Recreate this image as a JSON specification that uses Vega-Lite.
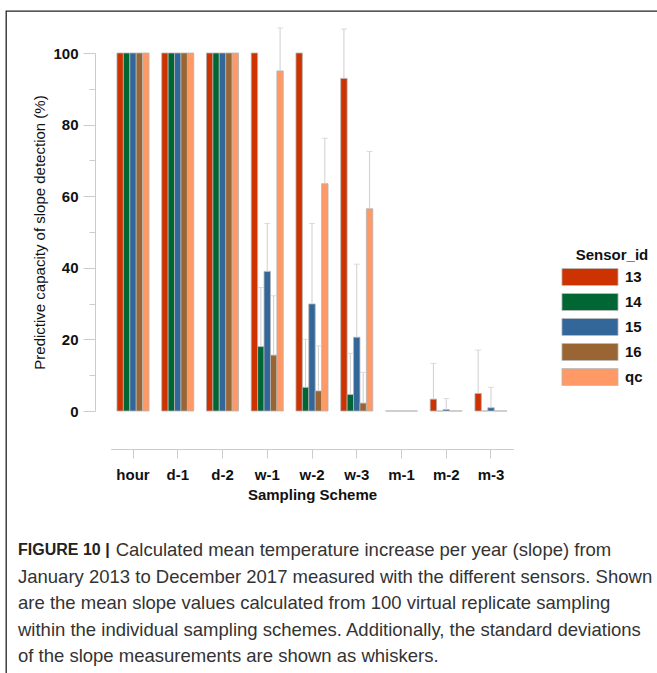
{
  "$schema": "https://vega.github.io/schema/vega-lite/v6.json",
  "width": 660,
  "height": 672,
  "padding": {"left": 6, "top": 11, "right": 0, "bottom": 0},
  "autosize": {"type": "pad"},
  "background": "white",
  "config": {
    "font": "Liberation Sans",
    "view": {"stroke": "#222222", "strokeWidth": 1.3}
  },
  "title": {
    "text": "FIGURE 10 |",
    "subtitle": [
      "\u200b\u00a0\u00a0\u00a0\u00a0\u00a0\u00a0\u00a0\u00a0\u00a0\u00a0\u00a0\u00a0\u00a0\u00a0\u00a0\u00a0\u00a0\u00a0\u00a0Calculated mean temperature increase per year (slope) from",
      "January 2013 to December 2017 measured with the different sensors. Shown",
      "are the mean slope values calculated from 100 virtual replicate sampling",
      "within the individual sampling schemes. Additionally, the standard deviations",
      "of the slope measurements are shown as whiskers."
    ],
    "orient": "bottom",
    "anchor": "start",
    "frame": "group",
    "offset": -141,
    "dx": 12,
    "font": "Liberation Sans",
    "fontSize": 16,
    "fontWeight": "bold",
    "color": "#222222",
    "subtitleFont": "Liberation Sans",
    "subtitleFontSize": 18.5,
    "subtitleFontWeight": "normal",
    "subtitleColor": "#333333",
    "subtitleLineHeight": 26.5,
    "subtitlePadding": -17
  },
  "data": {
    "values": [
      {"scheme": "hour", "sensor": "13", "value": 100, "upper": 100},
      {"scheme": "hour", "sensor": "14", "value": 100, "upper": 100},
      {"scheme": "hour", "sensor": "15", "value": 100, "upper": 100},
      {"scheme": "hour", "sensor": "16", "value": 100, "upper": 100},
      {"scheme": "hour", "sensor": "qc", "value": 100, "upper": 100},
      {"scheme": "d-1", "sensor": "13", "value": 100, "upper": 100},
      {"scheme": "d-1", "sensor": "14", "value": 100, "upper": 100},
      {"scheme": "d-1", "sensor": "15", "value": 100, "upper": 100},
      {"scheme": "d-1", "sensor": "16", "value": 100, "upper": 100},
      {"scheme": "d-1", "sensor": "qc", "value": 100, "upper": 100},
      {"scheme": "d-2", "sensor": "13", "value": 100, "upper": 100},
      {"scheme": "d-2", "sensor": "14", "value": 100, "upper": 100},
      {"scheme": "d-2", "sensor": "15", "value": 100, "upper": 100},
      {"scheme": "d-2", "sensor": "16", "value": 100, "upper": 100},
      {"scheme": "d-2", "sensor": "qc", "value": 100, "upper": 100},
      {"scheme": "w-1", "sensor": "13", "value": 100, "upper": 100},
      {"scheme": "w-1", "sensor": "14", "value": 18.0, "upper": 34.5},
      {"scheme": "w-1", "sensor": "15", "value": 39.0, "upper": 52.4},
      {"scheme": "w-1", "sensor": "16", "value": 15.6, "upper": 32.2},
      {"scheme": "w-1", "sensor": "qc", "value": 95.0, "upper": 107.0},
      {"scheme": "w-2", "sensor": "13", "value": 100, "upper": 100},
      {"scheme": "w-2", "sensor": "14", "value": 6.6, "upper": 20.0},
      {"scheme": "w-2", "sensor": "15", "value": 29.9, "upper": 52.4},
      {"scheme": "w-2", "sensor": "16", "value": 5.6, "upper": 18.2},
      {"scheme": "w-2", "sensor": "qc", "value": 63.5, "upper": 76.2},
      {"scheme": "w-3", "sensor": "13", "value": 92.9, "upper": 106.7},
      {"scheme": "w-3", "sensor": "14", "value": 4.6, "upper": 16.1},
      {"scheme": "w-3", "sensor": "15", "value": 20.6, "upper": 41.0},
      {"scheme": "w-3", "sensor": "16", "value": 2.2, "upper": 10.8},
      {"scheme": "w-3", "sensor": "qc", "value": 56.5, "upper": 72.5},
      {"scheme": "m-1", "sensor": "13", "value": 0, "upper": 0},
      {"scheme": "m-1", "sensor": "14", "value": 0, "upper": 0},
      {"scheme": "m-1", "sensor": "15", "value": 0, "upper": 0},
      {"scheme": "m-1", "sensor": "16", "value": 0, "upper": 0},
      {"scheme": "m-1", "sensor": "qc", "value": 0, "upper": 0},
      {"scheme": "m-2", "sensor": "13", "value": 3.3, "upper": 13.3},
      {"scheme": "m-2", "sensor": "14", "value": 0, "upper": 0},
      {"scheme": "m-2", "sensor": "15", "value": 0.4, "upper": 3.5},
      {"scheme": "m-2", "sensor": "16", "value": 0, "upper": 0},
      {"scheme": "m-2", "sensor": "qc", "value": 0, "upper": 0},
      {"scheme": "m-3", "sensor": "13", "value": 4.9, "upper": 17.0},
      {"scheme": "m-3", "sensor": "14", "value": 0, "upper": 0},
      {"scheme": "m-3", "sensor": "15", "value": 0.9, "upper": 6.6},
      {"scheme": "m-3", "sensor": "16", "value": 0, "upper": 0},
      {"scheme": "m-3", "sensor": "qc", "value": 0, "upper": 0}
    ]
  },
  "layer": [
    {
      "mark": {"type": "bar", "stroke": "#b4b4b4", "strokeWidth": 0.8},
      "encoding": {
        "x": {
          "field": "scheme",
          "type": "nominal",
          "sort": ["hour", "d-1", "d-2", "w-1", "w-2", "w-3", "m-1", "m-2", "m-3"],
          "scale": {"range": [104.7, 507.3], "paddingInner": 0.283, "paddingOuter": 0.14},
          "axis": {
            "title": "Sampling Scheme",
            "orient": "bottom",
            "offset": -234,
            "labelAngle": 0,
            "labelFontSize": 15,
            "labelFontWeight": "bold",
            "labelColor": "#111111",
            "labelPadding": 9,
            "tickSize": 9,
            "tickColor": "#cccccc",
            "domainColor": "#cccccc",
            "titleFontSize": 15,
            "titleFontWeight": "bold",
            "titleColor": "#111111",
            "titlePadding": 5,
            "grid": false
          }
        },
        "xOffset": {"field": "sensor", "type": "nominal"},
        "y": {
          "field": "value",
          "type": "quantitative",
          "scale": {"domain": [0, 100], "range": [400, 42], "nice": false, "zero": true},
          "axis": {
            "orient": "left",
            "offset": -89,
            "values": [0, 20, 40, 60, 80, 100],
            "tickSize": 12,
            "tickColor": "#cccccc",
            "domainColor": "#cccccc",
            "labelFontSize": 15,
            "labelFontWeight": "bold",
            "labelColor": "#111111",
            "labelPadding": 5,
            "title": "Predictive capacity of slope detection (%)",
            "titleFontSize": 15,
            "titleFontWeight": "normal",
            "titleColor": "#111111",
            "titlePadding": 5,
            "grid": false
          }
        },
        "color": {
          "field": "sensor",
          "type": "nominal",
          "scale": {
            "domain": ["13", "14", "15", "16", "qc"],
            "range": ["#cc3300", "#006633", "#336699", "#996633", "#ff9966"]
          },
          "legend": {
            "title": "Sensor_id",
            "orient": "none",
            "legendX": 570,
            "legendY": 237,
            "padding": 0,
            "symbolType": "M-3.3,-1H3.3V1H-3.3Z",
            "symbolSize": 289,
            "symbolStrokeColor": "#bbbbbb",
            "symbolStrokeWidth": 0.8,
            "symbolOpacity": 1,
            "labelOffset": 26,
            "labelFontSize": 15,
            "labelFontWeight": "bold",
            "labelColor": "#111111",
            "titleFontSize": 15,
            "titleFontWeight": "bold",
            "titleColor": "#111111",
            "titleAnchor": "middle",
            "titlePadding": 5,
            "rowPadding": 3
          }
        }
      }
    },
    {
      "transform": [{"filter": "datum.upper > datum.value"}],
      "mark": {"type": "rule", "color": "#cfcfcf", "strokeWidth": 1},
      "encoding": {
        "x": {"field": "scheme", "type": "nominal", "sort": ["hour", "d-1", "d-2", "w-1", "w-2", "w-3", "m-1", "m-2", "m-3"]},
        "xOffset": {"field": "sensor", "type": "nominal"},
        "y": {
          "field": "value",
          "type": "quantitative",
          "axis": {
            "orient": "left",
            "offset": -89,
            "values": [10, 30, 50, 70, 90],
            "tickSize": 6,
            "tickColor": "#cccccc",
            "labels": false,
            "domain": false,
            "title": null,
            "grid": false
          }
        },
        "y2": {"field": "upper"}
      }
    },
    {
      "transform": [{"filter": "datum.upper > datum.value"}],
      "mark": {"type": "tick", "color": "#cfcfcf", "size": 6, "thickness": 1, "orient": "horizontal"},
      "encoding": {
        "x": {"field": "scheme", "type": "nominal", "sort": ["hour", "d-1", "d-2", "w-1", "w-2", "w-3", "m-1", "m-2", "m-3"]},
        "xOffset": {"field": "sensor", "type": "nominal"},
        "y": {"field": "upper", "type": "quantitative", "axis": null}
      }
    }
  ],
  "resolve": {"axis": {"y": "independent"}}
}
